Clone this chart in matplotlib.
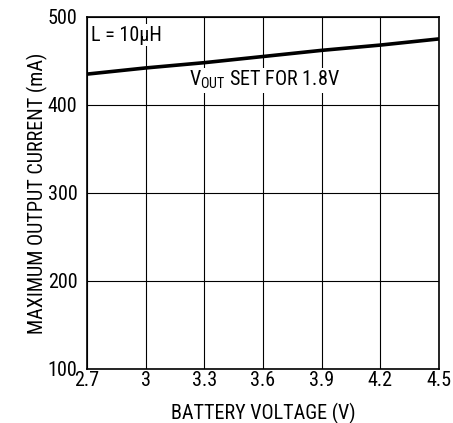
import matplotlib
matplotlib.use("Agg")
import matplotlib.pyplot as plt
from matplotlib import font_manager

# narrow sans if available
names = {f.name for f in font_manager.fontManager.ttflist}
fam = "DejaVu Sans"
for cand in ["Liberation Sans Narrow", "Roboto Condensed", "Open Sans Condensed",
             "Liberation Sans"]:
    if cand in names:
        fam = cand
        break
plt.rcParams['font.family'] = [fam, 'DejaVu Sans']

# data
battery_v = [2.7, 3.0, 3.3, 3.6, 3.9, 4.2, 4.5]
max_current = [435, 442, 448, 455, 462, 468, 475]
x_ticks = [2.7, 3.0, 3.3, 3.6, 3.9, 4.2, 4.5]
x_labels = ["2.7", "3", "3.3", "3.6", "3.9", "4.2", "4.5"]
y_ticks = [100, 200, 300, 400, 500]

fs = 14.5
fig = plt.figure(figsize=(4.53, 4.23), dpi=100)
ax = fig.add_axes([0.192, 0.128, 0.777, 0.832])

ax.plot(battery_v, max_current, color="black", linewidth=2.6, solid_capstyle="butt")

ax.set_xlim(2.7, 4.5)
ax.set_ylim(100, 500)
ax.set_xticks(x_ticks)
ax.set_xticklabels(x_labels)
ax.set_yticks(y_ticks)
ax.grid(True, color="black", linewidth=0.8)
ax.tick_params(length=0, labelsize=fs)
ax.tick_params(axis="x", pad=1.5)
ax.tick_params(axis="y", pad=7)
for s in ax.spines.values():
    s.set_linewidth(1.2)

ax.set_xlabel("BATTERY VOLTAGE (V)", fontsize=fs, labelpad=9)
ax.set_ylabel("MAXIMUM OUTPUT CURRENT (mA)", fontsize=fs, labelpad=0)

ax.text(2.72, 479, "L = 10µH", fontsize=fs, va="center", ha="left",
        bbox=dict(facecolor="white", edgecolor="none", pad=1))
ax.text(3.22, 428, r"V$_{\mathregular{OUT}}$ SET FOR 1.8V", fontsize=fs,
        va="center", ha="left",
        bbox=dict(facecolor="white", edgecolor="none", pad=1))

fig.savefig("out.png", dpi=100)
